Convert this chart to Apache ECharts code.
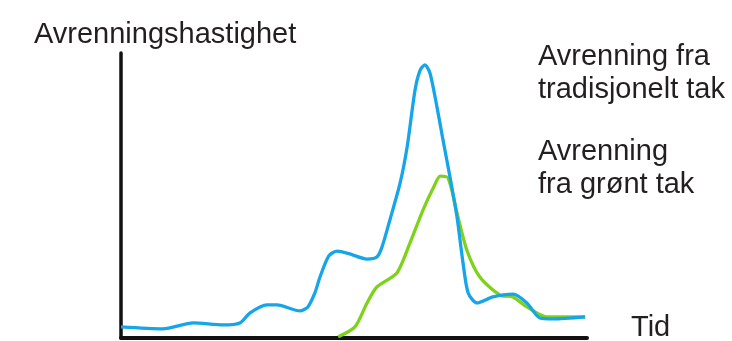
<!DOCTYPE html>
<html>
<head>
<meta charset="utf-8">
<script src="https://cdn.jsdelivr.net/npm/echarts@6/dist/echarts.min.js"></script>
<style>
html,body{margin:0;padding:0;background:#fff;}
#chart{width:732px;height:341px;}
</style>
</head>
<body>
<div id="chart"></div>
<script>
// Runoff from a traditional roof (blue), arbitrary units: [time, rate]
const traditionalRoof = [
  [0, 3.9], [9.0, 3.2], [15.5, 5.3], [21.9, 4.6], [25.5, 5.3], [27.7, 8.8],
  [31.3, 11.6], [33.5, 11.6], [38.4, 9.5], [40.1, 10.9], [41.6, 15.8],
  [42.7, 21.4], [44.6, 28.8], [46.4, 30.5], [49.1, 29.5], [52.8, 27.7],
  [54.9, 28.4], [56.0, 31.9], [57.7, 41.4], [59.9, 54.4], [61.4, 67.0],
  [63.1, 87.0], [64.2, 94.0], [65.2, 95.8], [66.3, 93.0], [67.8, 81.1],
  [69.1, 69.5], [70.6, 56.5], [72.1, 42.5], [73.4, 26.3], [74.5, 15.8],
  [76.4, 12.3], [79.8, 14.4], [84.1, 15.4], [87.1, 12.3], [89.9, 7.0],
  [92.7, 6.7], [99.6, 7.4]
];
// Runoff from a green roof (green)
const greenRoof = [
  [46.6, 0.4], [50.2, 3.9], [52.8, 12.3], [54.9, 17.9], [59.2, 22.8],
  [62.0, 33.3], [64.8, 44.9], [67.0, 52.6], [68.5, 56.8], [70.2, 56.1],
  [72.1, 43.9], [74.2, 30.9], [77.0, 21.4], [81.3, 15.1], [84.1, 14.4],
  [87.1, 10.9], [91.4, 7.4], [99.6, 7.4]
];
const yAxisLabel = 'Avrenningshastighet';
const xAxisLabel = 'Tid';
const seriesNames = ['Avrenning fra\ntradisjonelt tak', 'Avrenning\nfra grønt tak'];

const chart = echarts.init(document.getElementById('chart'), null, {renderer: 'canvas'});
const textStyle = {fontFamily: 'Liberation Sans, Arial, sans-serif', fontSize: 29, fill: '#231f20'};
chart.setOption({
  animation: false,
  backgroundColor: '#fff',
  grid: {left: 121, right: 145, top: 53, bottom: 3},
  xAxis: {
    type: 'value', min: 0, max: 100,
    axisLine: {show: true, lineStyle: {color: '#111', width: 4}},
    axisTick: {show: false}, axisLabel: {show: false}, splitLine: {show: false}
  },
  yAxis: {
    type: 'value', min: 0, max: 100,
    axisLine: {show: true, lineStyle: {color: '#111', width: 3.5}},
    axisTick: {show: false}, axisLabel: {show: false}, splitLine: {show: false}
  },
  series: [
    {
      name: seriesNames[0], type: 'line', data: traditionalRoof, smooth: 0.25,
      showSymbol: false, lineStyle: {color: '#16a5e8', width: 3.3}, z: 3
    },
    {
      name: seriesNames[1], type: 'line', data: greenRoof, smooth: 0.25,
      showSymbol: false, lineStyle: {color: '#7ed21c', width: 3.3}, z: 2
    }
  ],
  graphic: [
    {type: 'text', left: 34, top: 20, style: Object.assign({text: yAxisLabel}, textStyle)},
    {type: 'text', left: 538, top: 40, style: Object.assign({text: seriesNames[0], lineHeight: 33}, textStyle)},
    {type: 'text', left: 538, top: 135, style: Object.assign({text: seriesNames[1], lineHeight: 33}, textStyle)},
    {type: 'text', left: 631, top: 313, style: Object.assign({text: xAxisLabel}, textStyle)}
  ]
});
</script>
</body>
</html>
